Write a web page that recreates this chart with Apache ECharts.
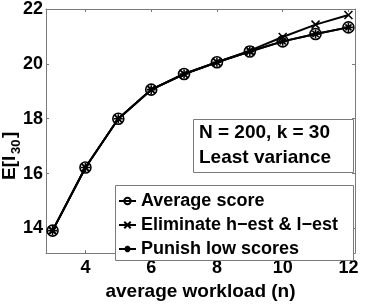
<!DOCTYPE html>
<html><head><meta charset="utf-8">
<script src="https://cdn.jsdelivr.net/npm/echarts@6/dist/echarts.min.js"></script>
<style>html,body{margin:0;padding:0;background:#fff}#c{width:378px;height:306px}</style>
</head><body><div id="c"></div>
<script>
var workload = [3, 4, 5, 6, 7, 8, 9, 10, 11, 12];
var averageScore = [13.92, 16.22, 18.00, 19.06, 19.63, 20.06, 20.45, 20.82, 21.09, 21.33];
var eliminateEst = [13.92, 16.22, 18.00, 19.06, 19.63, 20.06, 20.48, 20.98, 21.43, 21.78];
var punishLow = [13.92, 16.22, 18.00, 19.06, 19.63, 20.06, 20.45, 20.82, 21.09, 21.33];
var xTicks = [4, 6, 8, 10, 12];
var yTicks = [14, 16, 18, 20, 22];
var seriesNames = ['Average score', 'Eliminate h\u2212est & l\u2212est', 'Punish low scores'];
var noteLines = ['N = 200, k = 30', 'Least variance'];

function pairs(vals) { return workload.map(function (x, i) { return [x, vals[i]]; }); }

var FONT = 'Liberation Sans';
var frame = '#7a7a7a';
var xPath = 'path://M0,0 L10,10 M10,0 L0,10';
var starPath = 'path://M5,0 L5,10 M0,5 L10,5 M1.6,1.6 L8.4,8.4 M8.4,1.6 L1.6,8.4';

function mkSeries(name, vals, symbol, size, z) {
  return {
    name: name, type: 'line', data: pairs(vals), symbol: symbol, symbolSize: size,
    showAllSymbol: true,
    lineStyle: { color: '#000', width: 2 },
    itemStyle: { color: 'rgba(0,0,0,0)', borderColor: '#000', borderWidth: 1.6 },
    emphasis: { disabled: true }, animation: false, z: z
  };
}

var chart = echarts.init(document.getElementById('c'), null, { renderer: 'canvas' });
var tickLbl = { fontFamily: FONT, fontWeight: 'bold', fontSize: 18, color: '#000' };
chart.setOption({
  animation: false,
  grid: { left: 46, top: 9, width: 309, height: 254, containLabel: false },
  xAxis: [{
    type: 'value', min: 2.8, max: 12.2, position: 'bottom',
    name: 'average workload (n)', nameLocation: 'middle', nameGap: 18,
    nameTextStyle: { fontFamily: FONT, fontWeight: 'bold', fontSize: 19, color: '#000' },
    axisLine: { show: true, lineStyle: { color: frame, width: 1 } },
    axisTick: { show: true, inside: true, length: 3, customValues: xTicks, lineStyle: { color: frame } },
    axisLabel: Object.assign({ margin: 6, customValues: xTicks }, tickLbl),
    splitLine: { show: false }
  }, {
    type: 'value', min: 2.8, max: 12.2, position: 'top',
    axisLine: { show: true, lineStyle: { color: frame, width: 1 } },
    axisTick: { show: true, inside: true, length: 3, customValues: xTicks, lineStyle: { color: frame } },
    axisLabel: { show: false }, splitLine: { show: false }
  }],
  yAxis: [{
    type: 'value', min: 13.1, max: 22, position: 'left',
    axisLine: { show: true, lineStyle: { color: frame, width: 1 } },
    axisTick: { show: true, inside: true, length: 3, customValues: yTicks, lineStyle: { color: frame } },
    axisLabel: Object.assign({ margin: 3, customValues: yTicks }, tickLbl),
    splitLine: { show: false }
  }, {
    type: 'value', min: 13.1, max: 22, position: 'right',
    axisLine: { show: true, lineStyle: { color: frame, width: 1 } },
    axisTick: { show: true, inside: true, length: 3, customValues: yTicks, lineStyle: { color: frame } },
    axisLabel: { show: false }, splitLine: { show: false }
  }],
  legend: {
    orient: 'vertical', left: 118, top: 192, padding: 0, itemGap: 6,
    itemWidth: 17, itemHeight: 8, z: 30,
    textStyle: { fontFamily: FONT, fontWeight: 'bold', fontSize: 18, color: '#000', lineHeight: 18 },
    data: seriesNames, selectedMode: false
  },
  series: [
    mkSeries(seriesNames[0], averageScore, 'circle', 11, 4),
    mkSeries(seriesNames[1], eliminateEst, xPath, 8, 3),
    mkSeries(seriesNames[2], punishLow, starPath, 9, 3)
  ],
  graphic: [
    { type: 'rect', shape: { x: 193.5, y: 119.5, width: 160, height: 53 }, style: { fill: '#fff', stroke: frame, lineWidth: 1 }, z: 10 },
    { type: 'text', x: 199, y: 133, style: { text: noteLines[0], fontFamily: FONT, fontWeight: 'bold', fontSize: 19, fill: '#000', textVerticalAlign: 'middle' }, z: 11 },
    { type: 'text', x: 199, y: 158, style: { text: noteLines[1], fontFamily: FONT, fontWeight: 'bold', fontSize: 19, fill: '#000', textVerticalAlign: 'middle' }, z: 11 },
    { type: 'rect', shape: { x: 115.5, y: 185.5, width: 238, height: 75 }, style: { fill: '#fff', stroke: frame, lineWidth: 1 }, z: 10 },
    { type: 'group', x: 10, y: 180, rotation: Math.PI / 2, z: 11, children: [
      { type: 'text', x: 0, y: 0, style: { text: 'E[I', fontFamily: FONT, fontWeight: 'bold', fontSize: 19, fill: '#000', textVerticalAlign: 'middle' } },
      { type: 'text', x: 26, y: 6, style: { text: '30', fontFamily: FONT, fontWeight: 'bold', fontSize: 13, fill: '#000', textVerticalAlign: 'middle' } },
      { type: 'text', x: 42, y: 0, style: { text: ']', fontFamily: FONT, fontWeight: 'bold', fontSize: 19, fill: '#000', textVerticalAlign: 'middle' } }
    ] }
  ]
});
</script></body></html>
